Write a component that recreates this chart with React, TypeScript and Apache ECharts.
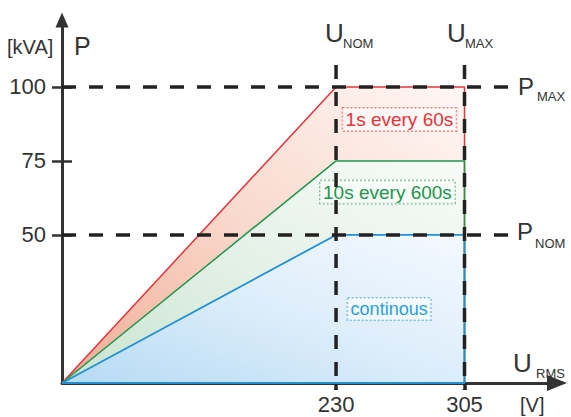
import React, { useEffect, useRef } from "react";
import * as echarts from "echarts";

const X_ORIGIN = 70;
const U_NOM = 230;
const U_MAX = 305;
const P_NOM = 50;
const P_10S = 75;
const P_MAX = 100;

const voltage = [X_ORIGIN, U_NOM, U_MAX, U_MAX];
const p1s = [0, P_MAX, P_MAX, 0];
const p10s = [0, P_10S, P_10S, 0];
const pCont = [0, P_NOM, P_NOM, 0];
const yTickValues = [P_NOM, P_10S, P_MAX];
const xTickValues = [U_NOM, U_MAX];
const seriesNames = ["1s every 60s", "10s every 600s", "continous"];

const FONT = "'Liberation Sans', Arial, sans-serif";
const TXT = "#333333";
const DASH = "#222222";

function pairs(xs: number[], ys: number[]) {
  return xs.map((x, i) => [x, ys[i]]);
}

function grad(c0: string, c1: string, c2: string) {
  return new echarts.graphic.LinearGradient(0, 1, 1, 0, [
    { offset: 0, color: c0 },
    { offset: 0.5, color: c1 },
    { offset: 1, color: c2 },
  ]);
}

function label(text: string, color: string, border: string, size: number) {
  return {
    show: true,
    position: "inside",
    formatter: text,
    color,
    fontSize: size,
    fontFamily: FONT,
    backgroundColor: "rgba(255,255,255,0.55)",
    borderColor: border,
    borderWidth: 1,
    borderType: "dotted",
    padding: [3, 3, 1, 3],
  };
}

function dashSeries(data: number[][]) {
  return {
    type: "line",
    data,
    symbol: "none",
    clip: false,
    silent: true,
    lineStyle: { color: DASH, width: 3.5, type: [14, 13] },
    z: 5,
  };
}

function txt(text: string, x: number, y: number, size: number) {
  return {
    type: "text",
    x,
    y,
    silent: true,
    style: {
      text,
      fontSize: size,
      fontFamily: FONT,
      fill: TXT,
      verticalAlign: "middle",
      textVerticalAlign: "middle",
    },
  };
}

export default function App() {
  const ref = useRef<HTMLDivElement>(null);
  useEffect(() => {
    if (!ref.current) return;
    const chart = echarts.init(ref.current, undefined, { renderer: "svg" });
    const contData = [...pairs(voltage, pCont), [X_ORIGIN, 0]];
    chart.setOption({
      animation: false,
      backgroundColor: "#ffffff",
      grid: { left: 62, right: 14, top: 20, bottom: 34, containLabel: false },
      xAxis: {
        type: "value",
        min: X_ORIGIN,
        max: 359,
        splitLine: { show: false },
        axisLine: {
          show: true,
          symbol: ["none", "triangle"],
          symbolSize: [16, 20],
          lineStyle: { color: TXT, width: 3 },
        },
        axisTick: {
          show: true,
          customValues: xTickValues,
          length: 7,
          lineStyle: { color: DASH, width: 3.5 },
        },
        axisLabel: {
          show: true,
          customValues: xTickValues,
          fontSize: 22,
          fontFamily: FONT,
          color: TXT,
          margin: 10,
        },
      },
      yAxis: [
        {
          type: "value",
          min: 0,
          max: 122.6,
          splitLine: { show: false },
          axisLine: {
            show: true,
            symbol: ["none", "triangle"],
            symbolSize: [13, 15],
            lineStyle: { color: TXT, width: 3 },
          },
          axisTick: {
            show: true,
            customValues: yTickValues,
            length: 10,
            lineStyle: { color: TXT, width: 2.5 },
          },
          axisLabel: {
            show: true,
            customValues: yTickValues,
            fontSize: 22,
            fontFamily: FONT,
            color: TXT,
            margin: 16,
          },
        },
        {
          type: "value",
          min: 0,
          max: 122.6,
          position: "left",
          splitLine: { show: false },
          axisLine: { show: false },
          axisLabel: { show: false },
          axisTick: {
            show: true,
            inside: true,
            customValues: yTickValues,
            length: 10,
            lineStyle: { color: TXT, width: 2.5 },
          },
        },
      ],
      series: [
        {
          name: seriesNames[0],
          type: "line",
          data: pairs(voltage, p1s),
          symbol: "none",
          lineStyle: { color: "#e2343a", width: 1.5 },
          areaStyle: { color: grad("#f2ab94", "#f9d9cd", "#fff7f5"), opacity: 1 },
          z: 2,
          markPoint: {
            symbol: "rect",
            symbolSize: 0,
            data: [{ coord: [267, 89] }],
            label: label(seriesNames[0], "#e2343a", "rgba(226,90,90,0.75)", 19),
          },
        },
        {
          name: seriesNames[1],
          type: "line",
          data: pairs(voltage, p10s),
          symbol: "none",
          lineStyle: { color: "#20964c", width: 1.5 },
          areaStyle: { color: grad("#c8e4cf", "#e4f1e7", "#f7fbf8"), opacity: 1 },
          z: 2,
          markPoint: {
            symbol: "rect",
            symbolSize: 0,
            data: [{ coord: [260, 64.5] }],
            label: label(seriesNames[1], "#20964c", "rgba(90,170,120,0.75)", 19),
          },
        },
        {
          name: seriesNames[2],
          type: "line",
          data: contData,
          symbol: "none",
          lineStyle: { color: "#1f8fd6", width: 1.8 },
          areaStyle: { color: grad("#b5daf4", "#dcedfa", "#f4f9fe"), opacity: 1 },
          z: 2,
          markPoint: {
            symbol: "rect",
            symbolSize: 0,
            data: [{ coord: [261, 25] }],
            label: label(seriesNames[2], "#2aa0d8", "rgba(80,170,220,0.75)", 18),
          },
        },
        dashSeries([[X_ORIGIN, P_MAX], [331.5, P_MAX]]),
        dashSeries([[X_ORIGIN, P_NOM], [331.5, P_NOM]]),
        dashSeries([[U_NOM, 107.4], [U_NOM, -2.4]]),
        dashSeries([[U_MAX, 107.4], [U_MAX, -2.4]]),
      ],
      graphic: [
        txt("[kVA]", 7, 47, 20),
        txt("P", 74, 46, 25),
        txt("U", 325, 33, 26),
        txt("NOM", 343, 43, 13),
        txt("U", 447, 33, 26),
        txt("MAX", 465, 43, 13),
        txt("P", 518, 86, 24),
        txt("MAX", 537, 96, 13),
        txt("P", 517, 231, 24),
        txt("NOM", 535, 243, 13),
        txt("U", 513, 363, 26),
        txt("RMS", 536, 373, 13),
        txt("[V]", 520, 405, 20),
      ],
    });
    return () => chart.dispose();
  }, []);
  return (
    <div
      ref={ref}
      style={{ position: "absolute", left: 0, top: 0, width: 571, height: 417, background: "#fff" }}
    />
  );
}
